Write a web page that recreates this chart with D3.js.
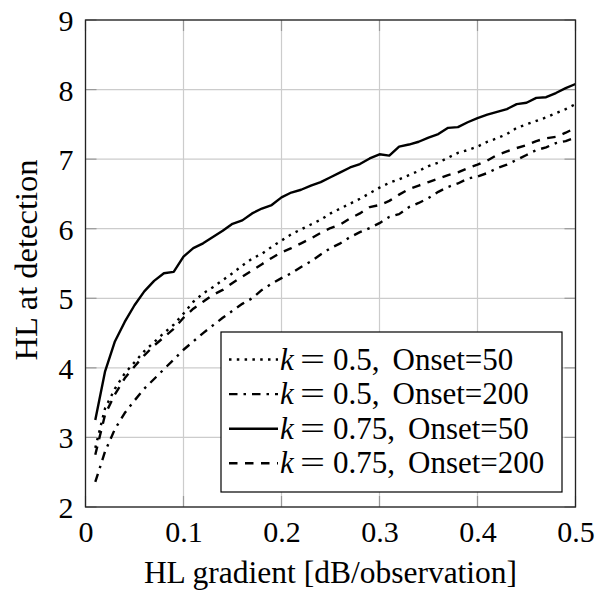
<!DOCTYPE html>
<html>
<head>
<meta charset="utf-8">
<script src="https://d3js.org/d3.v7.min.js"></script>
<style>
  body { margin: 0; background: #fff; }
</style>
</head>
<body>
<div id="svgzone"></div>
<script>
// data
let gradient = [0.01,0.02,0.03,0.04,0.05,0.06,0.07,0.08,0.09,0.10,
                0.11,0.12,0.13,0.14,0.15,0.16,0.17,0.18,0.19,0.20,
                0.21,0.22,0.23,0.24,0.25,0.26,0.27,0.28,0.29,0.30,
                0.31,0.32,0.33,0.34,0.35,0.36,0.37,0.38,0.39,0.40,
                0.41,0.42,0.43,0.44,0.45,0.46,0.47,0.48,0.49,0.50];

let k05onset50 = [2.85,3.42,3.70,3.92,4.08,4.24,4.37,4.50,4.62,4.78,
                  4.95,5.07,5.16,5.26,5.36,5.47,5.57,5.64,5.74,5.83,
                  5.92,5.99,6.06,6.13,6.22,6.29,6.36,6.43,6.51,6.59,
                  6.66,6.71,6.77,6.83,6.90,6.95,7.02,7.09,7.13,7.18,
                  7.25,7.30,7.36,7.45,7.50,7.55,7.60,7.66,7.72,7.79];

let k05onset200 = [2.36,2.80,3.12,3.35,3.53,3.70,3.84,3.98,4.12,4.26,
                   4.38,4.50,4.61,4.72,4.82,4.92,5.00,5.12,5.21,5.29,
                   5.36,5.45,5.53,5.63,5.72,5.79,5.88,5.95,6.01,6.08,
                   6.17,6.21,6.31,6.37,6.44,6.53,6.60,6.65,6.72,6.75,
                   6.80,6.87,6.92,6.99,7.06,7.13,7.17,7.23,7.26,7.31];

let k075onset50 = [3.25,3.95,4.38,4.66,4.90,5.10,5.25,5.36,5.38,5.60,
                   5.72,5.79,5.88,5.97,6.07,6.12,6.22,6.29,6.34,6.45,
                   6.52,6.56,6.62,6.67,6.74,6.81,6.88,6.93,7.01,7.07,
                   7.05,7.18,7.21,7.25,7.31,7.36,7.45,7.46,7.53,7.59,
                   7.64,7.68,7.72,7.79,7.81,7.88,7.89,7.95,8.02,8.08];

let k075onset200 = [2.75,3.33,3.62,3.85,4.02,4.18,4.32,4.44,4.56,4.72,
                    4.85,4.95,5.05,5.12,5.22,5.31,5.40,5.49,5.58,5.66,
                    5.72,5.79,5.86,5.94,6.01,6.06,6.15,6.22,6.31,6.34,
                    6.40,6.49,6.57,6.62,6.67,6.72,6.77,6.81,6.87,6.92,
                    6.98,7.06,7.11,7.16,7.20,7.26,7.30,7.32,7.38,7.45];

let kValues = ["0.5", "0.5", "0.75", "0.75"];
let onsets = ["Onset=50", "Onset=200", "Onset=50", "Onset=200"];
let seriesValues = [k05onset50, k05onset200, k075onset50, k075onset200];
let dashes = ["2.5 5.3", "8.5 6 2.5 6", null, "8.5 7.5"];

let xTicks = [0, 0.1, 0.2, 0.3, 0.4, 0.5];
let yTicks = [2, 3, 4, 5, 6, 7, 8, 9];

let serif = "'Liberation Serif', 'Times New Roman', serif";

// dimensions
let margin = { top: 20, right: 24.5, bottom: 88, left: 85.5 },
    width = 600 - margin.left - margin.right,
    height = 595 - margin.top - margin.bottom;

let svg = d3.select("#svgzone")
    .append("svg")
    .attr("width", 600)
    .attr("height", 595)
    .style("font-family", serif)
    .append("g")
    .attr("transform", "translate(" + margin.left + "," + margin.top + ")");

let x = d3.scaleLinear().domain([0, 0.5]).range([0, width]);
let y = d3.scaleLinear().domain([2, 9]).range([height, 0]);

// grid
svg.append("g")
    .selectAll("line")
    .data(xTicks)
    .enter()
    .append("line")
    .attr("x1", d => x(d)).attr("x2", d => x(d))
    .attr("y1", 0).attr("y2", height)
    .attr("stroke", "#cccccc").attr("stroke-width", 1.2);
svg.append("g")
    .selectAll("line")
    .data(yTicks)
    .enter()
    .append("line")
    .attr("x1", 0).attr("x2", width)
    .attr("y1", d => y(d)).attr("y2", d => y(d))
    .attr("stroke", "#cccccc").attr("stroke-width", 1.2);

// inner ticks on all four sides
let tickLen = 11;
let tickG = svg.append("g").attr("stroke", "#999").attr("stroke-width", 1.2);
xTicks.forEach(function (d) {
    tickG.append("line").attr("x1", x(d)).attr("x2", x(d)).attr("y1", height).attr("y2", height - tickLen);
    tickG.append("line").attr("x1", x(d)).attr("x2", x(d)).attr("y1", 0).attr("y2", tickLen);
});
yTicks.forEach(function (d) {
    tickG.append("line").attr("x1", 0).attr("x2", tickLen).attr("y1", y(d)).attr("y2", y(d));
    tickG.append("line").attr("x1", width).attr("x2", width - tickLen).attr("y1", y(d)).attr("y2", y(d));
});

// axes (labels only, frame drawn separately)
let xAxis = svg.append("g")
    .attr("transform", "translate(0," + height + ")")
    .call(d3.axisBottom(x).tickValues(xTicks).tickSize(0).tickPadding(14)
        .tickFormat(d => d === 0 ? "0" : d3.format(".1f")(d)));
let yAxis = svg.append("g")
    .call(d3.axisLeft(y).tickValues(yTicks).tickSize(0).tickPadding(12).tickFormat(d3.format("d")));
[xAxis, yAxis].forEach(function (a) {
    a.attr("font-family", null).attr("font-size", null);
    a.select(".domain").remove();
    a.selectAll("text")
        .style("font-family", serif)
        .style("font-size", "30px")
        .attr("fill", "#000");
});
yAxis.selectAll("text").attr("dy", "0.35em");
xAxis.selectAll("text").attr("dy", "0.71em");

// series
let line = d3.line()
    .x(function (d, i) { return x(gradient[i]) })
    .y(function (d) { return y(d) });

svg.append("g")
    .selectAll("path")
    .data(seriesValues)
    .enter()
    .append("path")
    .attr("d", d => line(d))
    .attr("fill", "none")
    .attr("stroke", "#000")
    .attr("stroke-width", 2.4)
    .attr("stroke-linejoin", "round")
    .attr("stroke-dasharray", (d, i) => dashes[i]);

// frame
svg.append("rect")
    .attr("x", 0).attr("y", 0)
    .attr("width", width).attr("height", height)
    .attr("fill", "none")
    .attr("stroke", "#222")
    .attr("stroke-width", 1.3);

// legend
let legend = svg.append("g").attr("transform", "translate(" + (221 - margin.left) + "," + (332 - margin.top) + ")");
legend.append("rect")
    .attr("x", 0).attr("y", 0)
    .attr("width", 341).attr("height", 160)
    .attr("fill", "#fff")
    .attr("stroke", "#000")
    .attr("stroke-width", 1.2);

let rows = legend.selectAll("g.row")
    .data(kValues)
    .enter()
    .append("g")
    .attr("class", "row")
    .attr("transform", (d, i) => "translate(0," + (27.5 + i * 34.6) + ")");

rows.append("line")
    .attr("x1", 8).attr("x2", 57)
    .attr("y1", 0).attr("y2", 0)
    .attr("stroke", "#000")
    .attr("stroke-width", 2.4)
    .attr("stroke-dasharray", (d, i) => dashes[i]);

let lt = rows.append("text")
    .attr("y", 10)
    .style("font-family", serif)
    .style("font-size", "31px")
    .attr("fill", "#000");
lt.append("tspan").attr("x", 59).style("font-style", "italic").text("k");
lt.append("tspan").attr("x", 79).attr("textLength", 25).attr("lengthAdjust", "spacingAndGlyphs").text("=");
lt.append("tspan").attr("x", 112).text(d => d + ",");
lt.append("tspan").attr("dx", 13).text((d, i) => onsets[i]);

// axis titles
svg.append("text")
    .attr("x", width / 2)
    .attr("y", height + 76)
    .attr("text-anchor", "middle")
    .style("font-family", serif)
    .style("font-size", "31.5px")
    .attr("fill", "#000")
    .text("HL gradient [dB/observation]");

svg.append("text")
    .attr("transform", "translate(" + (37 - margin.left) + "," + (260 - margin.top) + ") rotate(-90)")
    .attr("text-anchor", "middle")
    .style("font-family", serif)
    .style("font-size", "32.5px")
    .attr("fill", "#000")
    .text("HL at detection");
</script>
</body>
</html>
